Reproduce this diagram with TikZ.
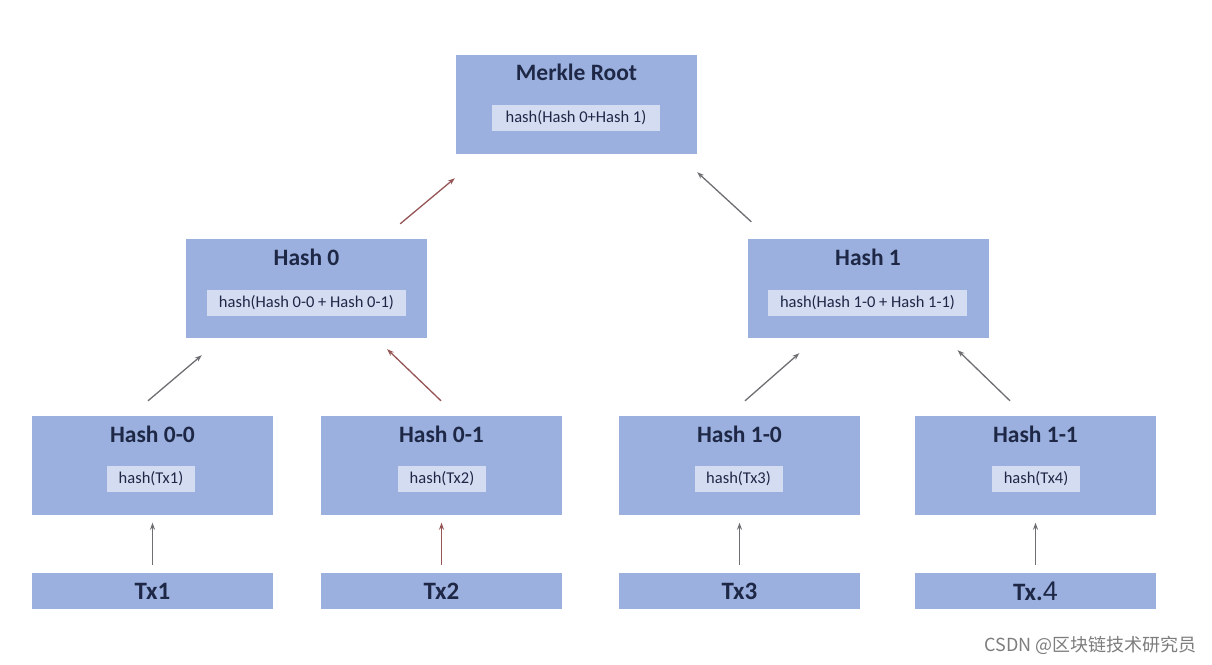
\documentclass[tikz,border=0pt]{standalone}
\usepackage{fontspec}
\setmainfont{Carlito}
\newfontfamily\cjk{Noto Sans CJK SC}
\newfontfamily\arialish{Liberation Sans}
\usetikzlibrary{calc,arrows.meta}
\definecolor{boxblue}{RGB}{155,176,222}
\definecolor{innerblue}{RGB}{212,220,241}
\definecolor{txtnavy}{RGB}{30,40,70}
\definecolor{arrgray}{RGB}{110,110,115}
\definecolor{arrred}{RGB}{150,85,85}
\definecolor{wmgray}{RGB}{125,125,125}
\begin{document}
\begin{tikzpicture}[x=1pt,y=-1pt,
 hbox/.style={fill=boxblue, minimum width=241pt, minimum height=99pt, inner sep=0pt, draw=none},
 txbox/.style={fill=boxblue, minimum width=241pt, minimum height=36pt, inner sep=0pt, font=\bfseries\fontsize{25}{25}\selectfont, text=txtnavy},
 ttl/.style={font=\bfseries\fontsize{23.5}{23.5}\selectfont, text=txtnavy, inner sep=0pt},
 lbl/.style={fill=innerblue, minimum height=26pt, inner sep=0pt, font=\fontsize{16.5}{16.5}\selectfont, text=txtnavy},
 arr/.style={-{Stealth[length=7pt,width=5pt]}, line width=1.3pt, draw=arrgray},
 arrr/.style={arr, draw=arrred},
]
\useasboundingbox (0,0) rectangle (1212,664);
\fill[white] (0,0) rectangle (1212,664);

% root
\node[hbox] (root) at (576.5,104) {};
\node[ttl] (roott) at (576.5,72) {Merkle Root};
\node[lbl, minimum width=168pt] (rooti) at (576,118) {hash(Hash 0+Hash 1)};

% level 1
\node[hbox] (h0) at (306.5,288.5) {};
\node[ttl] (h0t) at (306.5,257) {Hash 0};
\node[lbl, minimum width=199pt] (h0i) at (306.5,303) {hash(Hash 0-0 + Hash 0-1)};

\node[hbox] (h1) at (868,288.5) {};
\node[ttl] (h1t) at (868,257) {Hash 1};
\node[lbl, minimum width=199pt] (h1i) at (867.5,303) {hash(Hash 1-0 + Hash 1-1)};

% leaves
\node[hbox] (h00) at (152.5,465) {};
\node[ttl] (h00t) at (152.5,434) {Hash 0-0};
\node[lbl, minimum width=88pt] (h00i) at (151,479) {hash(Tx1)};

\node[hbox] (h01) at (441.5,465) {};
\node[ttl] (h01t) at (441.5,434) {Hash 0-1};
\node[lbl, minimum width=88pt] (h01i) at (442,479) {hash(Tx2)};

\node[hbox] (h10) at (739.5,465) {};
\node[ttl] (h10t) at (739.5,434) {Hash 1-0};
\node[lbl, minimum width=88pt] (h10i) at (738.5,479) {hash(Tx3)};

\node[hbox] (h11) at (1035.5,465) {};
\node[ttl] (h11t) at (1035.5,434) {Hash 1-1};
\node[lbl, minimum width=88pt] (h11i) at (1036,479) {hash(Tx4)};

% transactions
\node[txbox] (tx1) at (152.5,591) {Tx1};
\node[txbox] (tx2) at (441.5,591) {Tx2};
\node[txbox] (tx3) at (739.5,591) {Tx3};
\node[txbox] (tx4) at (1035.5,591) {Tx.{\mdseries\arialish\fontsize{27}{27}\selectfont 4}};

% arrows
\draw[arrr] ($(h0.north east)+(-27,-15)$) -- ($(root.south west)+(-1,24.5)$);
\draw[arr] ($(h1.north west)+(4,-17)$) -- ($(root.south east)+(0,18.5)$);
\draw[arr] ($(h00.north)+(-4.5,-14.5)$) -- ($(h0.south west)+(16,17)$);
\draw[arrr] ($(h01.north)+(-0.5,-14.5)$) -- ($(h0.south east)+(-40,11)$);
\draw[arr] ($(h10.north)+(5.5,-14.5)$) -- ($(h1.south west)+(52,15)$);
\draw[arr] ($(h11.north)+(-25.5,-14.5)$) -- ($(h1.south east)+(-31,12)$);
\draw[arr] ($(tx1.north)+(0,-8)$) -- ($(h00.south)+(0,8)$);
\draw[arrr] ($(tx2.north)+(0,-8)$) -- ($(h01.south)+(0,8)$);
\draw[arr] ($(tx3.north)+(0,-8)$) -- ($(h10.south)+(0,8)$);
\draw[arr] ($(tx4.north)+(0,-8)$) -- ($(h11.south)+(0,8)$);

% watermark
\node[text=wmgray, font=\cjk\fontsize{18}{18}\selectfont, inner sep=0pt, anchor=east] (wm) at (1197,645) {CSDN @区块链技术研究员};
\end{tikzpicture}
\end{document}
